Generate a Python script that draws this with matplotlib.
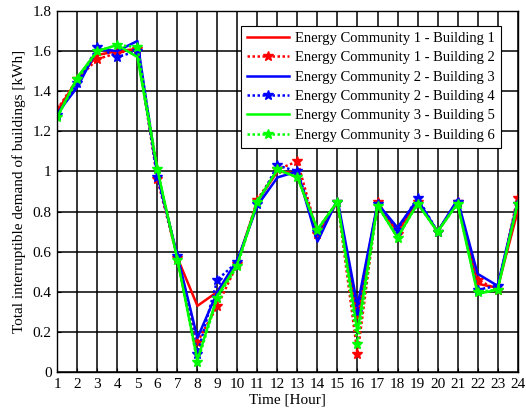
import matplotlib
matplotlib.use("Agg")
import matplotlib.pyplot as plt
import numpy as np

# Hourly interruptible demand per building [kWh]
hours = list(range(1, 25))
b1 = [1.30, 1.46, 1.58, 1.60, 1.61, 0.99, 0.57, 0.33, 0.40, 0.55, 0.85, 1.00, 0.99, 0.68, 0.85, 0.27, 0.84, 0.70, 0.85, 0.70, 0.85, 0.44, 0.42, 0.80]
b2 = [1.31, 1.46, 1.56, 1.59, 1.61, 0.96, 0.57, 0.15, 0.33, 0.54, 0.86, 1.01, 1.05, 0.69, 0.85, 0.09, 0.85, 0.69, 0.85, 0.70, 0.85, 0.46, 0.41, 0.87]
b3 = [1.29, 1.42, 1.61, 1.60, 1.65, 0.98, 0.58, 0.17, 0.40, 0.56, 0.83, 0.97, 1.00, 0.65, 0.86, 0.33, 0.84, 0.72, 0.86, 0.70, 0.86, 0.49, 0.43, 0.85]
b4 = [1.28, 1.44, 1.62, 1.57, 1.60, 0.97, 0.58, 0.09, 0.46, 0.55, 0.84, 1.03, 1.00, 0.70, 0.85, 0.30, 0.84, 0.71, 0.87, 0.70, 0.85, 0.41, 0.43, 0.84]
b5 = [1.27, 1.47, 1.60, 1.63, 1.57, 1.01, 0.56, 0.06, 0.38, 0.54, 0.85, 1.01, 0.97, 0.71, 0.85, 0.20, 0.83, 0.67, 0.84, 0.70, 0.84, 0.39, 0.41, 0.84]
b6 = [1.27, 1.46, 1.60, 1.63, 1.62, 1.01, 0.56, 0.05, 0.37, 0.53, 0.85, 1.01, 0.97, 0.71, 0.85, 0.14, 0.83, 0.67, 0.84, 0.70, 0.84, 0.40, 0.41, 0.84]

labels = ["Energy Community 1 - Building 1", "Energy Community 1 - Building 2",
          "Energy Community 2 - Building 3", "Energy Community 2 - Building 4",
          "Energy Community 3 - Building 5", "Energy Community 3 - Building 6"]

plt.rcParams['font.family'] = ['Liberation Serif', 'DejaVu Serif']
plt.rcParams['font.size'] = 11

fig = plt.figure(figsize=(5.26, 4.19), dpi=100)
ax = fig.add_axes([0.109, 0.112, 0.875, 0.862])

dots = (0, (1, 1))
ax.plot(hours, b1, color='#ff0000', lw=1.8, label=labels[0])
ax.plot(hours, b2, color='#ff0000', lw=1.8, ls=dots, marker='*', ms=7, label=labels[1])
ax.plot(hours, b3, color='#0000ff', lw=1.8, label=labels[2])
ax.plot(hours, b4, color='#0000ff', lw=1.8, ls=dots, marker='*', ms=7, label=labels[3])
ax.plot(hours, b5, color='#00ff00', lw=1.8, label=labels[4])
ax.plot(hours, b6, color='#00ff00', lw=1.8, ls=dots, marker='*', ms=7, label=labels[5])

ax.set_xlim(1, 24)
ax.set_ylim(0, 1.8)
ax.set_xticks(hours)
yt = np.round(np.arange(0, 1.81, 0.2), 1)
ax.set_yticks(yt)
ax.set_yticklabels(['%g' % v for v in yt])
ax.tick_params(direction='in', length=3, pad=4)
ax.grid(True, color='black', lw=1.1, ls='-')
ax.set_axisbelow(True)
for s in ax.spines.values():
    s.set_linewidth(1.0)

ax.set_xlabel("Time [Hour]", labelpad=2)
ax.set_ylabel("Total interruptible demand of buildings [kWh]", labelpad=5)

leg = ax.legend(loc='upper right', bbox_to_anchor=(0.963, 0.958), fancybox=False,
                framealpha=1, edgecolor='black', handlelength=2.9, borderpad=0.4,
                labelspacing=0.42, handletextpad=0.4, borderaxespad=0,
                fontsize=10.5)
leg.get_frame().set_linewidth(0.8)

fig.savefig("out.png", dpi=100)
